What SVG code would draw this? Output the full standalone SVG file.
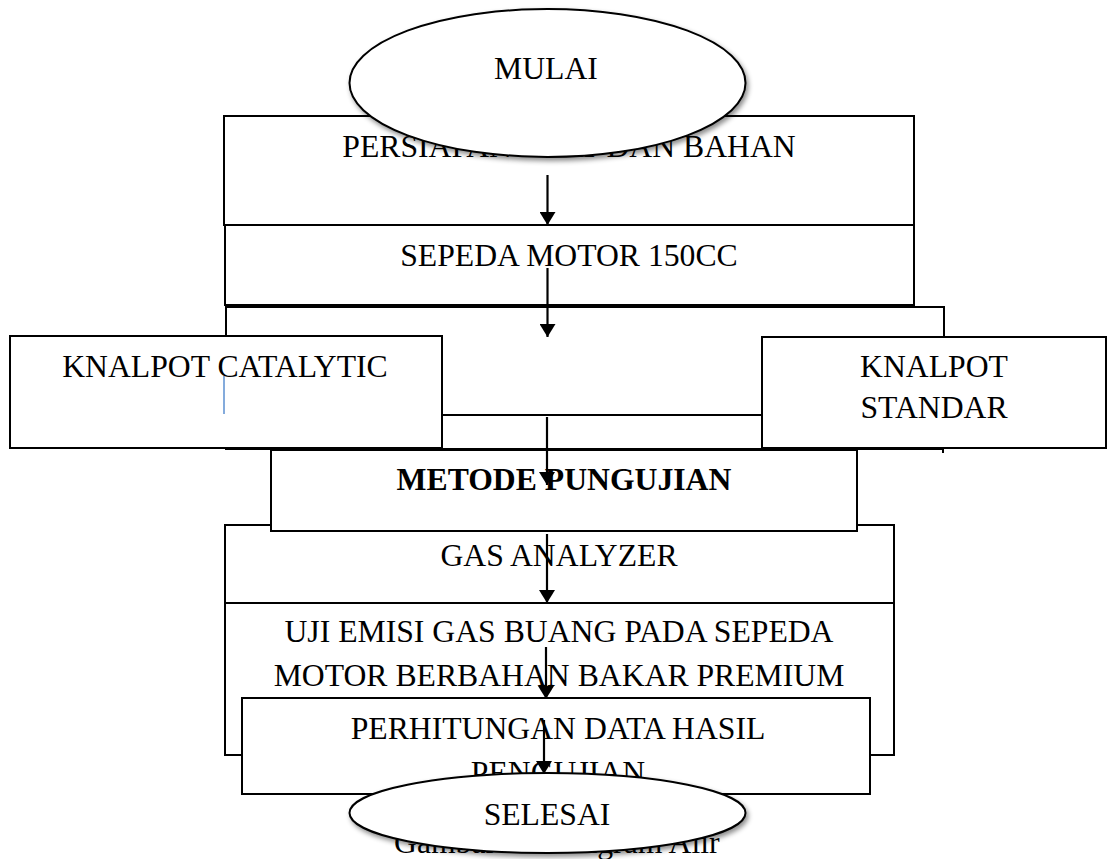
<svg xmlns="http://www.w3.org/2000/svg" width="1109" height="859" viewBox="0 0 1109 859">
<style>
.box{fill:#fff;stroke:#000;stroke-width:2}
.edge{fill:none;stroke:#000;stroke-width:2}
.t{font-family:"Liberation Serif","Times New Roman",serif;font-size:31.7px;fill:#000}
.c{text-anchor:middle}
.b{font-weight:bold}
.conn{stroke:#000;stroke-width:2.2;fill:none;marker-end:url(#ah)}
</style>
<defs>
<marker id="ah" markerUnits="userSpaceOnUse" markerWidth="14" markerHeight="16" refX="13" refY="8" orient="auto">
<path d="M0,0 L13,8 L0,16 z" fill="#000"/>
</marker>
<filter id="sh" x="-10%" y="-10%" width="120%" height="130%">
<feDropShadow dx="2" dy="3" stdDeviation="2.5" flood-color="#000" flood-opacity="0.45"/>
</filter>
</defs>
<rect width="1109" height="859" fill="#fff"/>

<g id="node-persiapan">
<rect class="box" x="224" y="116" width="690" height="109"/>
<text class="t c" x="569" y="157">PERSIAPAN ALAT DAN BAHAN</text>
</g>

<g id="node-sepeda">
<rect class="box" x="225" y="225" width="689" height="80"/>
<text class="t c" x="569" y="266">SEPEDA MOTOR 150CC</text>
</g>

<g id="node-knalpot-frame">
<rect class="box" x="226" y="307" width="718" height="108"/>
<rect class="box" x="226" y="415" width="717" height="34"/>
<line class="edge" x1="943" y1="447" x2="943" y2="453"/>
</g>

<g id="node-catalytic">
<rect class="box" x="10" y="336" width="432" height="112"/>
<text class="t c" x="225" y="377">KNALPOT CATALYTIC</text>
<line x1="224" y1="376" x2="224" y2="414" stroke="#5b8fd0" stroke-width="1.5"/>
</g>

<g id="node-standar">
<rect class="box" x="762" y="337" width="344" height="111"/>
<text class="t c" x="934" y="377">KNALPOT</text>
<text class="t c" x="934" y="418">STANDAR</text>
</g>

<g id="node-gas">
<rect class="box" x="225" y="525" width="669" height="78"/>
<text class="t c" x="559" y="566">GAS ANALYZER</text>
</g>

<g id="node-metode">
<rect class="box" x="271" y="450" width="586" height="81"/>
<text class="t c b" x="564" y="490">METODE PUNGUJIAN</text>
</g>

<g id="node-uji">
<rect class="box" x="225" y="603" width="669" height="152"/>
<text class="t c" x="559" y="642">UJI EMISI GAS BUANG PADA SEPEDA</text>
<text class="t c" x="559" y="686">MOTOR BERBAHAN BAKAR PREMIUM</text>
</g>

<g id="node-perhitungan">
<rect class="box" x="242" y="698" width="628" height="96"/>
<text class="t c" x="558" y="739">PERHITUNGAN DATA HASIL</text>
<text class="t c" x="558" y="783">PENGUJIAN</text>
</g>

<g id="caption">
<text class="t" x="394" y="853">Gambar 3.1 Diagram Alir</text>
</g>

<g id="node-mulai">
<ellipse cx="547.5" cy="83" rx="198" ry="74" fill="#fff" stroke="#000" stroke-width="2" filter="url(#sh)"/>
<text class="t c" x="546" y="79">MULAI</text>
</g>

<g id="connectors">
<line class="conn" x1="547.5" y1="175" x2="547.5" y2="225"/>
<line class="conn" x1="547.5" y1="268" x2="547.5" y2="337"/>
<line class="conn" x1="547" y1="417" x2="547" y2="485"/>
<line class="conn" x1="547" y1="534" x2="547" y2="603"/>
<line class="conn" x1="546" y1="647" x2="546" y2="699"/>
<line class="conn" x1="544" y1="720" x2="544" y2="774"/>
</g>

<g id="node-selesai">
<ellipse cx="547.5" cy="813" rx="198" ry="40" fill="#fff" stroke="#000" stroke-width="2" filter="url(#sh)"/>
<text class="t c" x="547" y="825">SELESAI</text>
</g>
</svg>
